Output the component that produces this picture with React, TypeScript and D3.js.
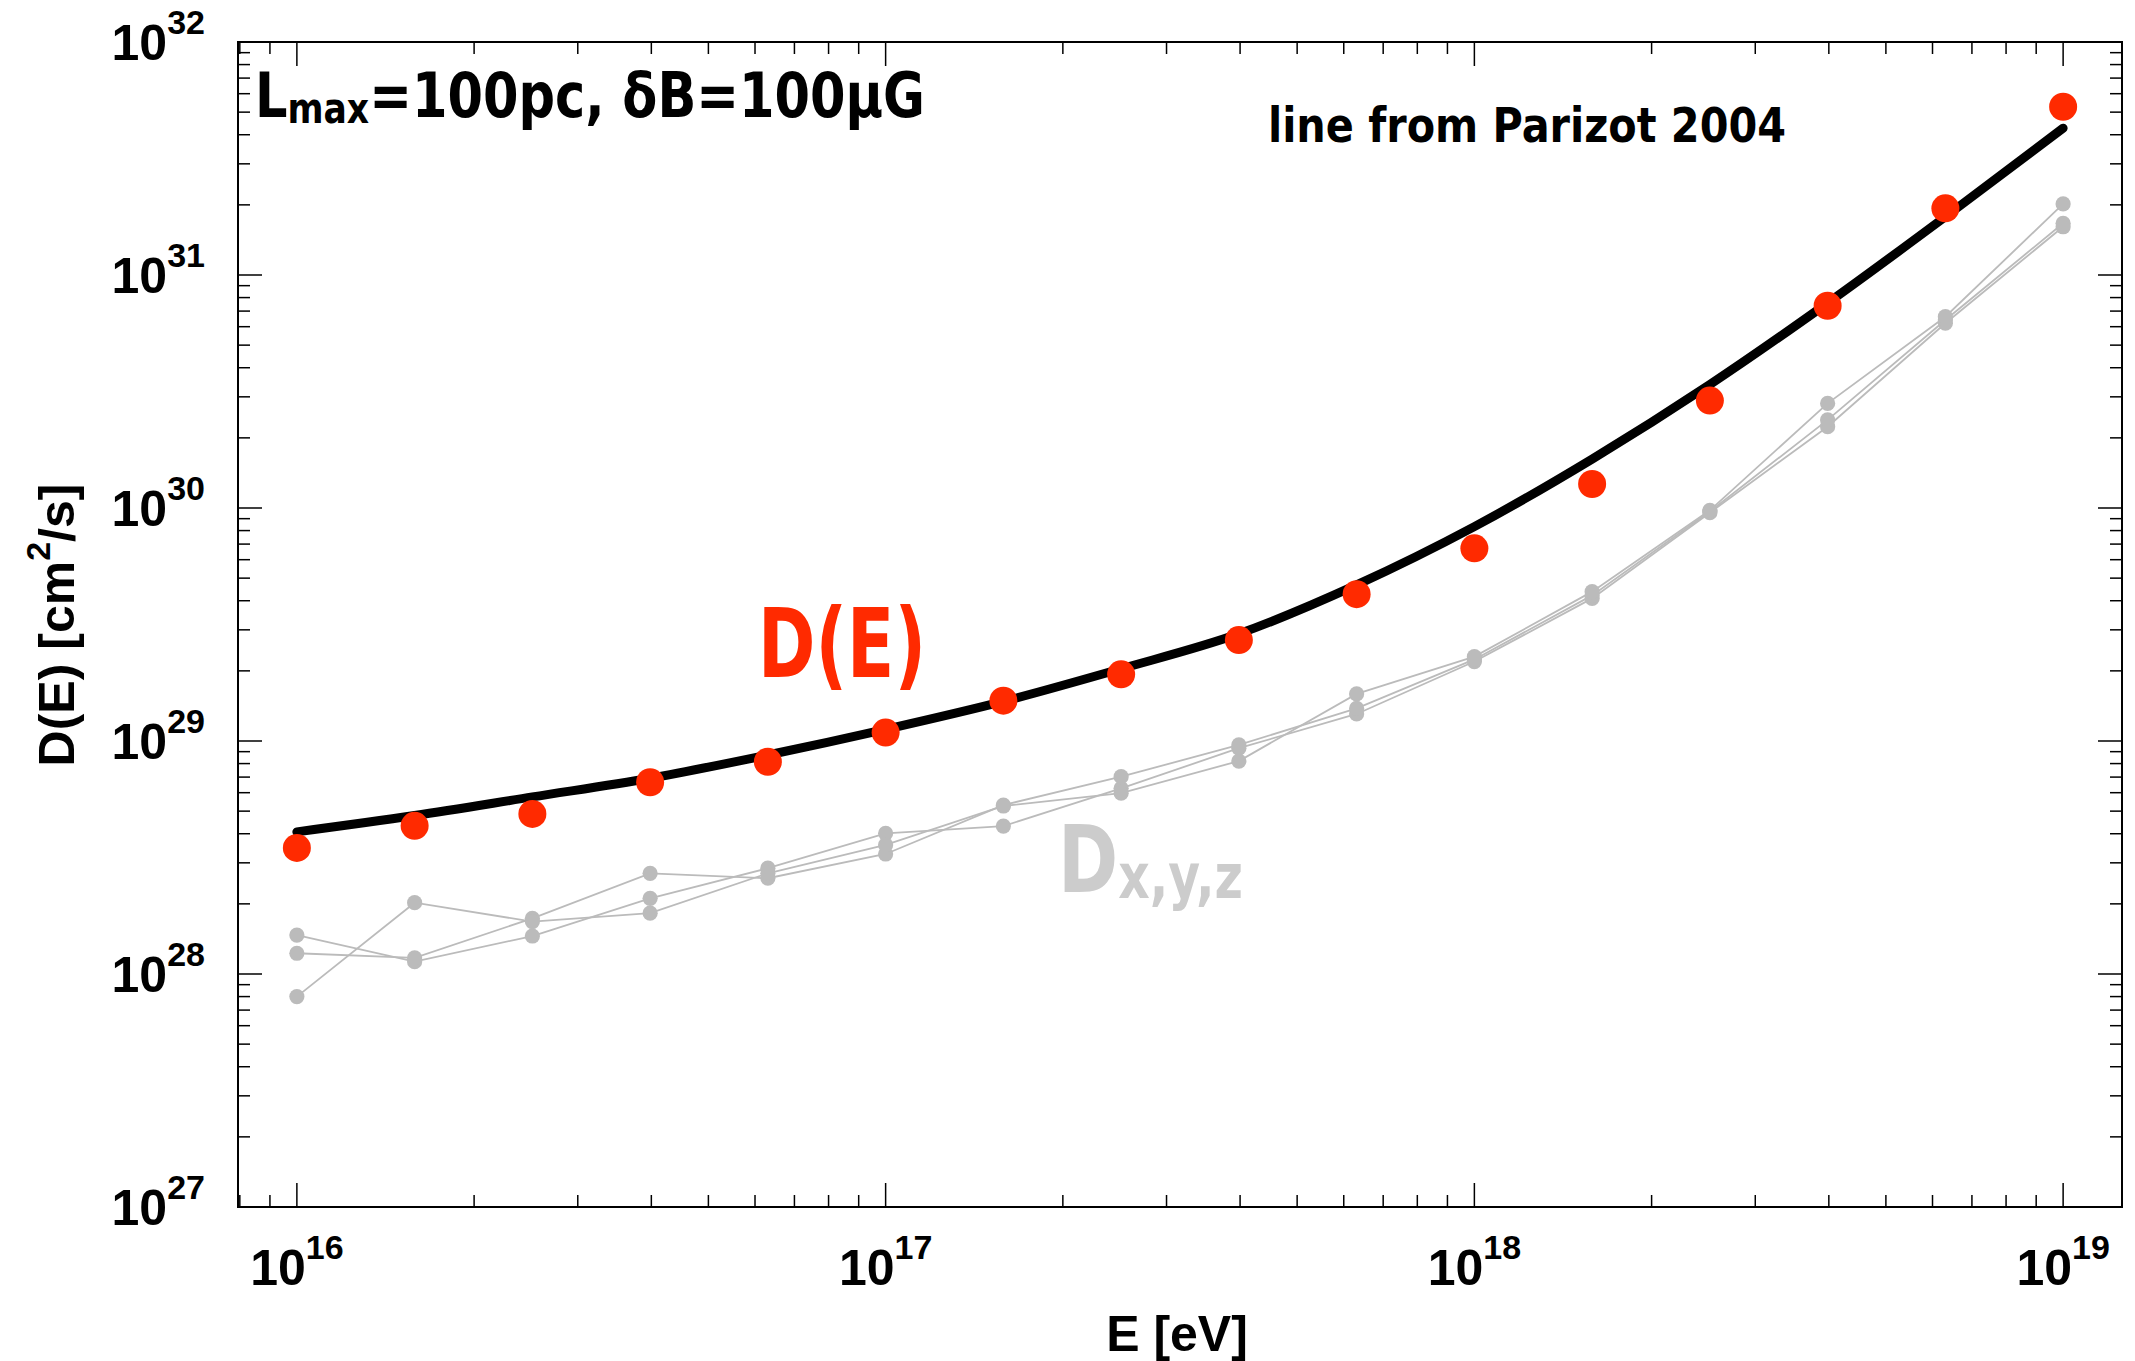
import React from 'react';
import * as d3 from 'd3';

// ---- data ----
const energyExp = [16.0, 16.2, 16.4, 16.6, 16.8, 17.0, 17.2, 17.4, 17.6, 17.8, 18.0, 18.2, 18.4, 18.6, 18.8, 19.0];
// log10 D(E) red points
const logDTotal = [28.541, 28.636, 28.687, 28.823, 28.911, 29.036, 29.173, 29.286, 29.433, 29.630, 29.827, 30.103, 30.461, 30.868, 31.286, 31.722];
// log10 D_x, D_y, D_z grey points
const logDx = [28.167, 28.053, 28.163, 28.325, 28.454, 28.604, 28.635, 28.797, 28.969, 29.116, 29.341, 29.612, 29.980, 30.349, 30.793, 31.207];
const logDy = [28.089, 28.069, 28.239, 28.432, 28.411, 28.515, 28.725, 28.847, 28.983, 29.140, 29.350, 29.625, 29.985, 30.378, 30.807, 31.222];
const logDz = [27.903, 28.306, 28.225, 28.261, 28.432, 28.554, 28.721, 28.776, 28.914, 29.202, 29.362, 29.641, 29.990, 30.449, 30.821, 31.305];
// log10 D(E) of the Parizot 2004 line
const logDParizot = [28.61, 28.68, 28.76, 28.84, 28.94, 29.05, 29.17, 29.31, 29.46, 29.67, 29.92, 30.21, 30.53, 30.88, 31.25, 31.63];

const xTickExps = [16, 17, 18, 19];
const yTickExps = [27, 28, 29, 30, 31, 32];

const W = 2135;
const H = 1361;
const PL = 238, PR = 2122, PT = 42, PB = 1207;

const RED = '#ff2a00';
const GREY = '#bbbbbb';
const LABEL_FONT = '"Liberation Sans", Arial, Helvetica, sans-serif';
const ANNOT_FONT = '"DejaVu Sans Condensed", "Liberation Sans Narrow", "DejaVu Sans", sans-serif';

export default function App() {
  const x = d3.scaleLog().domain([Math.pow(10, 15.9), Math.pow(10, 19.1)]).range([PL, PR]);
  const y = d3.scaleLog().domain([1e27, 1e32]).range([PB, PT]);

  const toPts = (logs: number[]) => energyExp.map((e, i) => [Math.pow(10, e), Math.pow(10, logs[i])] as [number, number]);

  const poly = d3.line<[number, number]>().x(d => x(d[0])).y(d => y(d[1]));
  const smooth = d3.line<[number, number]>().x(d => x(d[0])).y(d => y(d[1])).curve(d3.curveMonotoneX);

  const [xd0, xd1] = x.domain();
  const [yd0, yd1] = y.domain();

  const xMinor: number[] = [];
  for (let dec = 15; dec <= 19; dec++) {
    for (let m = 2; m <= 9; m++) {
      const v = m * Math.pow(10, dec);
      if (v >= xd0 && v <= xd1) xMinor.push(v);
    }
  }
  const yMinor: number[] = [];
  for (let dec = 27; dec <= 31; dec++) {
    for (let m = 2; m <= 9; m++) {
      const v = m * Math.pow(10, dec);
      if (v >= yd0 && v <= yd1) yMinor.push(v);
    }
  }

  const greySeries = [logDx, logDy, logDz].map(toPts);
  const redPts = toPts(logDTotal);
  const linePts = toPts(logDParizot);

  const MAJ = 24, MIN = 12;

  return (
    <svg width={W} height={H} style={{ position: 'absolute', left: 0, top: 0, background: '#fff' }}>
      <rect x={0} y={0} width={W} height={H} fill="#fff" />

      {/* ticks */}
      <g stroke="#000" strokeWidth={1.5}>
        {xTickExps.map(e => {
          const px = x(Math.pow(10, e));
          return (
            <g key={'xM' + e}>
              <line x1={px} x2={px} y1={PB} y2={PB - MAJ} />
              <line x1={px} x2={px} y1={PT} y2={PT + MAJ} />
            </g>
          );
        })}
        {xMinor.map((v, i) => {
          const px = x(v);
          return (
            <g key={'xm' + i}>
              <line x1={px} x2={px} y1={PB} y2={PB - MIN} />
              <line x1={px} x2={px} y1={PT} y2={PT + MIN} />
            </g>
          );
        })}
        {yTickExps.map(e => {
          const py = y(Math.pow(10, e));
          return (
            <g key={'yM' + e}>
              <line x1={PL} x2={PL + MAJ} y1={py} y2={py} />
              <line x1={PR} x2={PR - MAJ} y1={py} y2={py} />
            </g>
          );
        })}
        {yMinor.map((v, i) => {
          const py = y(v);
          return (
            <g key={'ym' + i}>
              <line x1={PL} x2={PL + MIN} y1={py} y2={py} />
              <line x1={PR} x2={PR - MIN} y1={py} y2={py} />
            </g>
          );
        })}
      </g>

      {/* frame */}
      <rect x={PL} y={PT} width={PR - PL} height={PB - PT} fill="none" stroke="#000" strokeWidth={2} />

      {/* tick labels */}
      <g fontFamily={LABEL_FONT} fontWeight="bold" fill="#000">
        {xTickExps.map(e => (
          <text key={'xl' + e} x={x(Math.pow(10, e))} y={1285} textAnchor="middle" fontSize={50}>
            10<tspan fontSize={34} dy={-26}>{e}</tspan>
          </text>
        ))}
        {yTickExps.map(e => (
          <text key={'yl' + e} x={205} y={y(Math.pow(10, e)) + 18} textAnchor="end" fontSize={50}>
            10<tspan fontSize={34} dy={-26}>{e}</tspan>
          </text>
        ))}
        <text x={1177} y={1351} textAnchor="middle" fontSize={50}>E [eV]</text>
        <text transform={`translate(74, 625) rotate(-90)`} textAnchor="middle" fontSize={50}>
          D(E) [cm<tspan fontSize={34} dy={-24}>2</tspan><tspan dy={24}>/s]</tspan>
        </text>
      </g>

      {/* grey component series */}
      <g>
        {greySeries.map((pts, i) => (
          <path key={'gl' + i} d={poly(pts) || ''} fill="none" stroke={GREY} strokeWidth={1.8} />
        ))}
        {greySeries.map((pts, i) =>
          pts.map((p, j) => <circle key={'gc' + i + '-' + j} cx={x(p[0])} cy={y(p[1])} r={7.6} fill={GREY} />)
        )}
      </g>

      {/* Parizot line */}
      <path d={smooth(linePts) || ''} fill="none" stroke="#000" strokeWidth={9} strokeLinecap="round" strokeLinejoin="round" />

      {/* red total points */}
      <g>
        {redPts.map((p, j) => (
          <circle key={'rc' + j} cx={x(p[0])} cy={y(p[1])} r={14} fill={RED} />
        ))}
      </g>

      {/* annotations */}
      <g fontFamily={ANNOT_FONT}>
        <text x={255} y={117} fontSize={62} fontWeight="bold" fill="#000" textLength={670} lengthAdjust="spacingAndGlyphs">
          L<tspan fontSize={42} dy={6}>max</tspan><tspan fontSize={62} dy={-6}>=100pc, δB=100μG</tspan>
        </text>
        <text x={1268} y={142} fontSize={48} fontWeight="bold" fill="#000" textLength={518} lengthAdjust="spacingAndGlyphs">
          line from Parizot 2004
        </text>
        <text x={758} y={677} fontSize={96} fontWeight="bold" fill={RED} textLength={168} lengthAdjust="spacingAndGlyphs">
          D(E)
        </text>
        <text x={1058} y={892} fontSize={92} fontWeight="bold" fill="#cccccc" textLength={185} lengthAdjust="spacingAndGlyphs">
          D<tspan fontSize={62} dy={6}>x,y,z</tspan>
        </text>
      </g>
    </svg>
  );
}
